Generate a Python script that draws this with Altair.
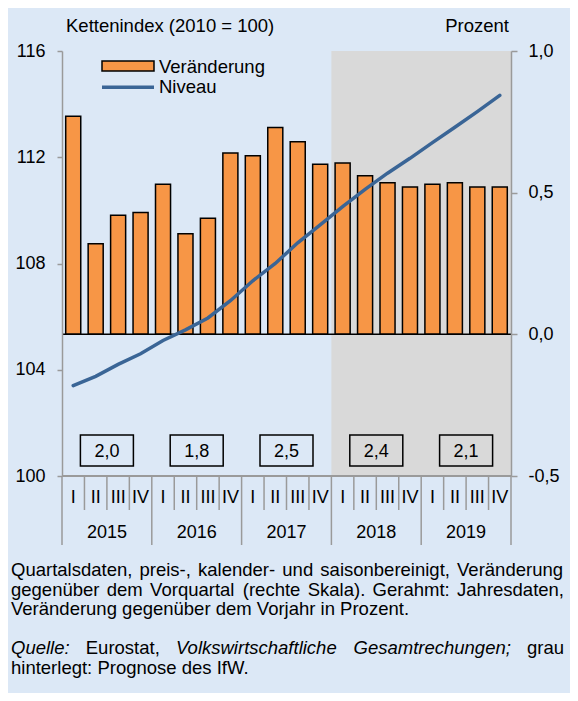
import altair as alt
import pandas as pd

# ---------------- data ----------------
quarters = ["I", "II", "III", "IV"]
years = ["2015", "2016", "2017", "2018", "2019"]
veraenderung = [0.77, 0.32, 0.42, 0.43, 0.53, 0.355, 0.41, 0.64, 0.63, 0.73,
                0.68, 0.60, 0.605, 0.56, 0.535, 0.52, 0.53, 0.535, 0.52, 0.52]
niveau = [103.4, 103.75, 104.2, 104.6, 105.1, 105.5, 105.95, 106.6, 107.35, 108.0,
          108.78, 109.45, 110.14, 110.79, 111.4, 111.96, 112.55, 113.13, 113.72, 114.33]
jahresraten = ["2,0", "1,8", "2,5", "2,4", "2,1"]
prognose_start = 12  # first forecast quarter: 2018 I
left_ticks = [100, 104, 108, 112, 116]
right_ticks = [-0.5, 0.0, 0.5, 1.0]

title_left = "Kettenindex (2010 = 100)"
title_right = "Prozent"
legend_bar = "Veränderung"
legend_line = "Niveau"

note_lines = [
    [("Quartalsdaten,", False), ("preis-,", False), ("kalender-", False), ("und", False),
     ("saisonbereinigt,", False), ("Veränderung", False)],
    [("gegenüber", False), ("dem", False), ("Vorquartal", False), ("(rechte", False),
     ("Skala).", False), ("Gerahmt:", False), ("Jahresdaten,", False)],
    [("Veränderung gegenüber dem Vorjahr in Prozent.", False)],
    [("Quelle:", True), ("Eurostat,", False), ("Volkswirtschaftliche", True),
     ("Gesamtrechungen;", True), ("grau", False)],
    [("hinterlegt: Prognose des IfW.", False)],
]
note_justify = [True, True, False, True, False]

# ---------------- layout ----------------
W, H = 449, 425
FONT = "Liberation Sans"
NARROW = "Liberation Sans Narrow, Arial Narrow, Liberation Sans"
BG = "#dce8f6"
AXIS_GREY = "#9a9a9a"
ORANGE = "#f79646"
BLUE = "#3a6596"
SHADE = "#d9d9d9"

n = len(veraenderung)
xs = alt.Scale(domain=[0, n], nice=False, zero=False)

qdf = pd.DataFrame({
    "i": list(range(n)),
    "v": veraenderung,
    "lvl": niveau,
    "q": [quarters[i % 4] for i in range(n)],
})
qdf["mid"] = qdf["i"] + 0.5
qdf["x0"] = qdf["i"] + 0.165
qdf["x1"] = qdf["i"] + 0.835

ydf = pd.DataFrame({
    "year": years,
    "rate": jahresraten,
    "mid": [4 * k + 2 for k in range(len(years))],
})

# Arial / Liberation Sans advance widths (1/1000 em)
AW = {' ': 278, ',': 278, '-': 333, '.': 278, ':': 278, ';': 278, '(': 333, ')': 333,
      'Q': 778, 'V': 667, 'S': 667, 'G': 778, 'J': 500, 'E': 667, 'I': 278, 'P': 667,
      'a': 556, 'b': 556, 'c': 500, 'd': 556, 'e': 556, 'f': 278, 'g': 556, 'h': 556,
      'i': 222, 'j': 222, 'k': 500, 'l': 222, 'm': 833, 'n': 556, 'o': 556, 'p': 556,
      'q': 556, 'r': 333, 's': 500, 't': 278, 'u': 556, 'v': 500, 'w': 722, 'x': 500,
      'y': 500, 'z': 500, 'ä': 556, 'ü': 556, 'ö': 556, 'W': 944}
NOTE_SIZE = 18.5


def tw(s, size):
    return sum(AW.get(c, 556) for c in s) / 1000.0 * size


note_left, note_right = -51, 502
note_base = [525, 544.5, 564, 603, 622.5]
rows = []
for line, just, yb in zip(note_lines, note_justify, note_base):
    if just and len(line) > 1:
        total = sum(tw(w, NOTE_SIZE) for w, _ in line)
        gap = (note_right - note_left - total) / (len(line) - 1)
    else:
        gap = tw(" ", NOTE_SIZE)
    x = note_left
    for w, it in line:
        rows.append({"t": w, "x": x, "y": yb, "it": it})
        x += tw(w, NOTE_SIZE) + gap
notes = pd.DataFrame(rows)

# ---------------- layers ----------------
shade = alt.Chart(pd.DataFrame({"a": [prognose_start], "b": [n]})).mark_rect(
    color=SHADE).encode(
    x=alt.X("a:Q", scale=xs, axis=None), x2="b:Q",
    y=alt.value(0), y2=alt.value(H))

bars = alt.Chart(qdf).mark_rect(fill=ORANGE, stroke="black", strokeWidth=1.5).encode(
    x=alt.X("x0:Q", scale=xs, axis=None), x2="x1:Q",
    y=alt.Y("v:Q", scale=alt.Scale(domain=[-0.5, 1.0], nice=False, zero=False),
            axis=alt.Axis(orient="right", values=right_ticks, title=None, grid=False,
                          labelExpr="(datum.value < 0 ? '-' : '') + replace(format(abs(datum.value), '.1f'), '.', ',')",
                          labelFont=FONT, labelFontSize=18, labelColor="black",
                          labelPadding=11, tickSize=6, tickColor=AXIS_GREY, tickWidth=1.5,
                          domainColor=AXIS_GREY, domainWidth=1.5, zindex=1)),
    y2=alt.datum(0))

zero = alt.Chart(pd.DataFrame({"a": [0], "b": [n], "z": [0]})).mark_rule(
    color="black", strokeWidth=1.5).encode(
    x=alt.X("a:Q", scale=xs, axis=None), x2="b:Q",
    y=alt.Y("z:Q", scale=alt.Scale(domain=[-0.5, 1.0], nice=False, zero=False), axis=None))

line = alt.Chart(qdf).mark_line(color=BLUE, strokeWidth=3.5, strokeCap="round").encode(
    x=alt.X("mid:Q", scale=xs, axis=None),
    y=alt.Y("lvl:Q", scale=alt.Scale(domain=[100, 116], nice=False, zero=False),
            axis=alt.Axis(orient="left", values=left_ticks, format="d", title=None, grid=False,
                          labelFont=FONT, labelFontSize=18, labelColor="black",
                          labelPadding=12, tickSize=5, tickColor=AXIS_GREY, tickWidth=1.5,
                          domainColor=AXIS_GREY, domainWidth=1.5, zindex=1)))

boxes = alt.Chart(ydf).mark_point(
    shape="M-1,-0.585H1V0.585H-1Z", size=2809, filled=False, stroke="black",
    strokeWidth=1.5, opacity=1).encode(
    x=alt.X("mid:Q", scale=xs, axis=None), y=alt.value(399.5))

box_text = alt.Chart(ydf).mark_text(font=FONT, fontSize=18, color="black",
                                    baseline="middle").encode(
    x=alt.X("mid:Q", scale=xs, axis=None), y=alt.value(400.5), text="rate:N")

q_text = alt.Chart(qdf).mark_text(font=NARROW, fontSize=18, color="black",
                                  baseline="middle").encode(
    x=alt.X("mid:Q", scale=xs, axis=None), y=alt.value(447), text="q:N")

y_text = alt.Chart(ydf).mark_text(font=NARROW, fontSize=18, color="black",
                                  baseline="middle").encode(
    x=alt.X("mid:Q", scale=xs, axis=None), y=alt.value(482), text="year:N")

qsep = alt.Chart(pd.DataFrame({"p": [p for p in range(1, n) if p % 4 != 0]})).mark_rule(
    color=AXIS_GREY, strokeWidth=1.5).encode(
    x=alt.X("p:Q", scale=xs, axis=None), y=alt.value(H), y2=alt.value(H + 34))

ysep = alt.Chart(pd.DataFrame({"p": list(range(0, n + 1, 4))})).mark_rule(
    color=AXIS_GREY, strokeWidth=1.5).encode(
    x=alt.X("p:Q", scale=xs, axis=None), y=alt.value(H), y2=alt.value(H + 69))

xaxis = alt.Chart(pd.DataFrame({"a": [0], "b": [n]})).mark_rule(
    color=AXIS_GREY, strokeWidth=2).encode(
    x=alt.X("a:Q", scale=xs, axis=None), x2="b:Q", y=alt.value(H))

one = alt.Data(values=[{}])
leg_rect = alt.Chart(one).mark_rect(fill=ORANGE, stroke="black", strokeWidth=1.5).encode(
    x=alt.value(40), x2=alt.value(92), y=alt.value(10), y2=alt.value(20))
leg_line = alt.Chart(one).mark_rule(color=BLUE, strokeWidth=3.5).encode(
    x=alt.value(40), x2=alt.value(92), y=alt.value(36.3))

labels = pd.DataFrame([
    {"t": title_left, "x": 4, "y": -19, "al": "left"},
    {"t": title_right, "x": 447, "y": -19, "al": "right"},
    {"t": legend_bar, "x": 97, "y": 21.5, "al": "left"},
    {"t": legend_line, "x": 97, "y": 42, "al": "left"},
])
lab_left = alt.Chart(labels[labels.al == "left"]).mark_text(
    font=FONT, fontSize=18.5, color="black", align="left", baseline="alphabetic").encode(
    x=alt.X("x:Q", scale=None), y=alt.Y("y:Q", scale=None), text="t:N")
lab_right = alt.Chart(labels[labels.al == "right"]).mark_text(
    font=FONT, fontSize=18.5, color="black", align="right", baseline="alphabetic").encode(
    x=alt.X("x:Q", scale=None), y=alt.Y("y:Q", scale=None), text="t:N")

note_norm = alt.Chart(notes[~notes.it]).mark_text(
    font=FONT, fontSize=NOTE_SIZE, color="black", align="left", baseline="alphabetic").encode(
    x=alt.X("x:Q", scale=None), y=alt.Y("y:Q", scale=None), text="t:N")
note_it = alt.Chart(notes[notes.it]).mark_text(
    font=FONT, fontSize=NOTE_SIZE, fontStyle="italic", color="black", align="left",
    baseline="alphabetic").encode(
    x=alt.X("x:Q", scale=None), y=alt.Y("y:Q", scale=None), text="t:N")

chart = alt.layer(
    shade, bars, zero, line, boxes, box_text, q_text, y_text, qsep, ysep, xaxis,
    leg_rect, leg_line, lab_left, lab_right, note_norm, note_it
).resolve_scale(y="independent").properties(
    width=W, height=H,
    padding={"left": 54, "top": 43, "right": 59, "bottom": 217},
    autosize=alt.AutoSizeParams(type="none"),
    background=BG,
).configure_view(stroke=None)

chart.save("out.html", embed_options={"renderer": "svg", "actions": False})
